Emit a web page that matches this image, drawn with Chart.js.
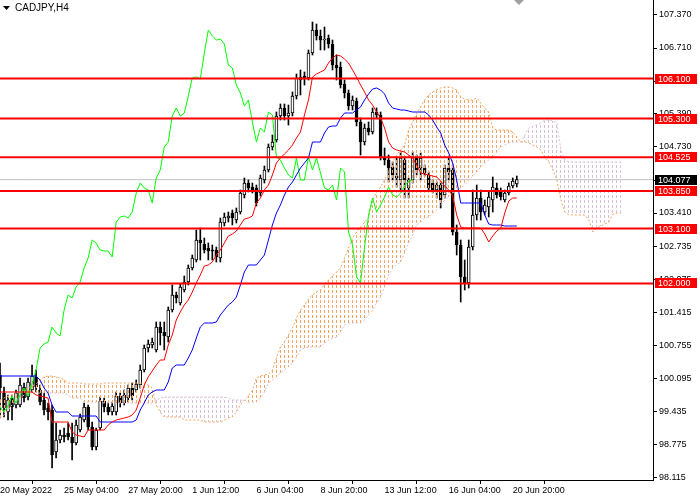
<!DOCTYPE html>
<html>
<head>
<meta charset="utf-8">
<script src="https://cdn.jsdelivr.net/npm/chart.js@4/dist/chart.umd.min.js"></script>
<style>
  html, body { margin: 0; padding: 0; background: #fff; }
  #wrap { width: 700px; height: 500px; }
</style>
</head>
<body>
<div id="wrap"><canvas id="chart" width="700" height="500"></canvas></div>
<script>
// CADJPY H4 candles, oldest first
var opens = [
  100.17, 99.81, 99.43, 99.71, 99.57, 99.57, 99.93, 99.73, 99.87, 100.13,
  99.87, 99.67, 99.51, 99.47, 98.63, 98.87, 98.97, 99.01, 98.93, 98.81,
  99.07, 99.27, 99.53, 99.13, 98.73, 99.11, 99.65, 99.53, 99.43, 99.43,
  99.75, 99.61, 99.71, 99.91, 99.87, 99.97, 100.27, 100.71, 100.77, 100.67,
  101.13, 101.03, 100.93, 101.47, 101.77, 101.61, 101.87, 102.03, 102.31, 102.47,
  102.87, 102.79, 102.71, 102.67, 102.67, 102.51, 103.21, 103.31, 103.41, 103.27,
  103.43, 103.77, 104.01, 103.93, 103.91, 103.81, 104.07, 104.27, 104.73, 104.87,
  105.35, 105.51, 105.35, 105.41, 105.75, 106.07, 106.15, 106.11, 106.61, 107.07,
  106.95, 106.87, 106.91, 106.79, 106.37, 106.33, 105.99, 105.81, 105.55, 105.65,
  105.23, 104.83, 105.11, 105.03, 105.43, 105.37, 104.53, 104.47, 104.33, 104.15,
  104.07, 104.47, 103.91, 104.07, 104.53, 104.31, 104.31, 104.17, 104.01, 103.87,
  103.97, 103.77, 104.31, 104.27, 103.03, 102.77, 102.13, 102.01, 102.73, 103.37,
  103.71, 103.43, 103.53, 103.67, 103.91, 103.83, 103.67, 103.81, 103.95, 103.99
];
var highs = [
  100.41, 99.93, 99.77, 99.77, 99.87, 100.11, 100.01, 100.11, 100.37, 100.27,
  99.97, 99.81, 99.61, 99.57, 99.21, 99.07, 99.11, 99.21, 99.21, 99.27,
  99.39, 99.61, 99.57, 99.23, 99.11, 99.73, 99.71, 99.61, 99.63, 99.83,
  99.81, 99.87, 99.97, 100.01, 100.07, 100.37, 100.77, 100.87, 100.91, 101.23,
  101.23, 101.23, 101.53, 101.97, 101.83, 101.99, 102.15, 102.37, 102.57, 103.07,
  103.11, 102.91, 102.81, 102.77, 102.73, 103.31, 103.41, 103.43, 103.47, 103.51,
  103.87, 104.11, 104.07, 104.01, 103.97, 104.17, 104.35, 104.79, 104.97, 105.43,
  105.59, 105.59, 105.57, 105.83, 106.19, 106.27, 106.23, 106.67, 107.23, 107.19,
  107.07, 107.13, 106.97, 106.87, 106.57, 106.43, 106.07, 105.87, 105.75, 105.71,
  105.31, 105.19, 105.23, 105.51, 105.51, 105.43, 104.71, 104.57, 104.43, 104.53,
  104.63, 104.53, 104.11, 104.63, 104.57, 104.61, 104.37, 104.23, 104.07, 104.03,
  104.03, 104.37, 104.53, 104.37, 103.17, 102.87, 102.47, 102.87, 103.87, 103.97,
  103.87, 103.67, 103.83, 104.13, 104.01, 103.91, 103.87, 104.01, 104.11, 104.15
];
var lows = [
  99.31, 99.33, 99.27, 99.27, 99.51, 99.53, 99.63, 99.67, 99.83, 99.83,
  99.57, 99.37, 99.27, 98.31, 98.51, 98.81, 98.83, 98.87, 98.47, 98.77,
  99.03, 99.23, 99.07, 98.67, 98.67, 99.07, 99.43, 99.37, 99.37, 99.37,
  99.53, 99.57, 99.63, 99.67, 99.83, 99.91, 100.23, 100.63, 100.71, 100.63,
  100.77, 100.67, 100.83, 101.43, 101.61, 101.57, 101.83, 101.97, 102.27, 102.43,
  102.47, 102.61, 102.47, 102.47, 102.43, 102.43, 103.15, 103.23, 103.17, 103.21,
  103.39, 103.71, 103.83, 103.81, 103.55, 103.75, 104.01, 104.23, 104.67, 104.83,
  105.27, 105.27, 105.17, 105.35, 105.69, 105.77, 105.97, 106.07, 106.57, 106.87,
  106.67, 106.67, 106.71, 106.27, 106.07, 105.91, 105.71, 105.47, 105.47, 105.15,
  104.57, 104.77, 104.97, 104.99, 105.31, 104.47, 104.37, 104.03, 104.07, 103.93,
  103.83, 103.71, 103.71, 104.01, 104.17, 104.07, 104.15, 103.87, 103.81, 103.71,
  103.51, 103.71, 104.07, 102.97, 102.57, 101.63, 101.87, 101.91, 102.67, 103.27,
  103.27, 103.37, 103.33, 103.43, 103.71, 103.67, 103.63, 103.77, 103.91, 103.93
];
var closes = [
  99.91, 99.51, 99.67, 99.53, 99.81, 99.97, 99.71, 100.03, 100.15, 99.93,
  99.63, 99.47, 99.43, 98.57, 98.87, 98.97, 98.93, 98.93, 98.81, 99.17,
  99.33, 99.53, 99.13, 98.73, 99.07, 99.65, 99.53, 99.43, 99.55, 99.75,
  99.61, 99.77, 99.91, 99.75, 99.99, 100.27, 100.71, 100.79, 100.83, 101.13,
  101.01, 100.95, 101.47, 101.77, 101.71, 101.93, 102.03, 102.31, 102.51, 102.87,
  102.81, 102.67, 102.65, 102.65, 102.53, 103.23, 103.33, 103.35, 103.31, 103.43,
  103.81, 104.01, 103.91, 103.87, 103.61, 104.11, 104.27, 104.73, 104.83, 105.35,
  105.51, 105.35, 105.41, 105.75, 106.11, 106.13, 106.09, 106.61, 107.07, 106.95,
  106.87, 106.89, 106.79, 106.37, 106.31, 105.97, 105.81, 105.55, 105.67, 105.23,
  104.83, 105.11, 105.03, 105.43, 105.37, 104.53, 104.47, 104.31, 104.17, 104.11,
  104.51, 104.07, 104.07, 104.53, 104.27, 104.51, 104.21, 103.91, 103.87, 103.97,
  103.67, 104.31, 104.23, 103.03, 102.77, 102.13, 102.01, 102.73, 103.37, 103.71,
  103.43, 103.57, 103.73, 103.93, 103.77, 103.73, 103.81, 103.95, 104.05, 104.077
];

// Ichimoku lines
var tenkan = [
  99.83, 99.83, 99.83, 99.83, 99.83, 99.83, 99.83, 99.83, 99.83, 99.77,
  99.75, 99.73, 99.71, 99.23, 99.23, 99.23, 99.23, 99.23, 99.03, 98.97,
  98.95, 98.93, 99.07, 99.07, 99.07, 99.07, 99.07, 99.17, 99.23, 99.27,
  99.29, 99.31, 99.33, 99.37, 99.47, 99.71, 99.97, 100.13, 100.25, 100.37,
  100.47, 100.47, 100.77, 100.97, 101.27, 101.43, 101.57, 101.67, 101.83, 102.01,
  102.17, 102.35, 102.37, 102.43, 102.57, 102.67, 102.81, 102.95, 102.99, 103.05,
  103.17, 103.29, 103.31, 103.35, 103.61, 103.71, 103.87, 103.97, 104.17, 104.41,
  104.51, 104.59, 104.67, 104.77, 104.91, 105.03, 105.37, 105.67, 106.13, 106.19,
  106.23, 106.27, 106.41, 106.51, 106.57, 106.55, 106.49, 106.41, 106.27, 106.13,
  105.97, 105.83, 105.67, 105.57, 105.43, 105.31, 105.11, 104.83, 104.71, 104.67,
  104.65, 104.63, 104.57, 104.51, 104.37, 104.21, 104.19, 104.17, 104.15, 104.13,
  104.05, 103.95, 103.87, 103.75, 103.37, 103.13, 103.11, 103.11, 103.11, 103.11,
  103.11, 102.99, 102.83, 102.95, 103.05, 103.11, 103.41, 103.65, 103.71, 103.71
];
var kijun = [
  100.15, 100.15, 100.15, 100.15, 100.15, 100.15, 100.15, 100.15, 100.15, 100.15,
  100.07, 99.91, 99.81, 99.57, 99.43, 99.43, 99.43, 99.43, 99.35, 99.35,
  99.35, 99.35, 99.35, 99.35, 99.35, 99.23, 99.23, 99.23, 99.23, 99.23,
  99.23, 99.23, 99.23, 99.23, 99.27, 99.47, 99.61, 99.77, 99.83, 99.87,
  99.87, 99.87, 100.03, 100.31, 100.37, 100.37, 100.37, 100.51, 100.67, 100.91,
  101.13, 101.21, 101.21, 101.21, 101.23, 101.37, 101.47, 101.57, 101.63, 101.73,
  101.97, 102.23, 102.37, 102.37, 102.37, 102.47, 102.57, 102.87, 103.17, 103.41,
  103.57, 103.77, 103.93, 104.03, 104.17, 104.31, 104.41, 104.51, 104.83, 104.83,
  104.83, 105.01, 105.13, 105.15, 105.15, 105.31, 105.41, 105.41, 105.41, 105.47,
  105.53, 105.67, 105.79, 105.89, 105.91, 105.87, 105.79, 105.61, 105.51, 105.49,
  105.47, 105.47, 105.45, 105.43, 105.43, 105.43, 105.43, 105.37, 105.27, 105.13,
  105.01, 104.77, 104.61, 104.41, 104.07, 103.61, 103.61, 103.61, 103.61, 103.61,
  103.61, 103.37, 103.19, 103.17, 103.17, 103.17, 103.15, 103.15, 103.15, 103.15
];
// cloud edges, already shifted 26 bars forward
var spanA = [
  99.67, 99.71, 99.75, 99.77, 99.81, 99.83, 99.87, 99.91, 99.95, 99.99,
  100.07, 100.13, 100.15, 100.15, 100.13, 100.11, 100.07, 100.01, 100.01, 100.01,
  100.01, 99.99, 99.99, 99.99, 99.99, 99.99, 100.01, 100.01, 100.01, 100.01,
  100.01, 100.01, 100.01, 100.01, 100.01, 100.01, 100.01, 99.97, 99.91, 99.57,
  99.43, 99.33, 99.33, 99.33, 99.33, 99.33, 99.27, 99.27, 99.27, 99.27,
  99.27, 99.23, 99.23, 99.23, 99.23, 99.23, 99.27, 99.31, 99.33, 99.43,
  99.57, 99.67, 99.75, 99.87, 100.11, 100.15, 100.17, 100.19, 100.27, 100.51,
  100.73, 100.83, 100.97, 101.11, 101.31, 101.47, 101.57, 101.69, 101.77, 101.83,
  101.87, 101.99, 102.07, 102.15, 102.23, 102.31, 102.51, 102.71, 102.91, 103.03,
  103.13, 103.23, 103.31, 103.67, 103.83, 103.93, 104.07, 104.23, 104.43, 104.57,
  104.67, 104.77, 105.07, 105.23, 105.41, 105.53, 105.67, 105.77, 105.83, 105.87,
  105.91, 105.93, 105.93, 105.91, 105.87, 105.73, 105.69, 105.67, 105.67, 105.71,
  105.61, 105.51, 105.43, 105.11, 105.07, 105.07, 105.07, 105.07, 105.03, 104.93,
  104.83, 104.83, 104.81, 104.77, 104.73, 104.67, 104.53, 104.43, 104.27, 104.07,
  103.67, 103.43, 103.37, 103.37, 103.37, 103.37, 103.37, 103.27, 103.03, 103.11,
  103.15, 103.19, 103.23, 103.39, 103.41, 103.41
];
var spanB = [
  99.31, 99.37, 99.47, 99.57, 99.67, 99.71, 99.77, 99.81, 99.81, 99.81,
  99.81, 99.81, 99.81, 99.81, 99.81, 99.81, 99.81, 99.77, 99.71, 99.71,
  99.71, 99.63, 99.63, 99.63, 99.63, 99.63, 99.61, 99.61, 99.61, 99.61,
  99.61, 99.61, 99.61, 99.61, 99.61, 99.61, 99.61, 99.61, 99.61, 99.67,
  99.71, 99.73, 99.73, 99.73, 99.73, 99.73, 99.73, 99.73, 99.73, 99.73,
  99.73, 99.73, 99.73, 99.73, 99.73, 99.73, 99.73, 99.71, 99.67, 99.67,
  99.67, 99.67, 99.63, 99.63, 99.63, 99.71, 99.83, 100.01, 100.07, 100.13,
  100.21, 100.27, 100.33, 100.41, 100.53, 100.67, 100.71, 100.73, 100.73, 100.73,
  100.73, 100.81, 100.87, 100.91, 100.93, 101.03, 101.17, 101.21, 101.21, 101.21,
  101.21, 101.27, 101.37, 101.47, 101.61, 101.73, 101.93, 102.17, 102.31, 102.37,
  102.43, 102.61, 102.81, 102.97, 103.17, 103.23, 103.31, 103.33, 103.41, 103.47,
  103.57, 103.67, 103.73, 103.81, 103.87, 103.91, 103.97, 104.07, 104.15, 104.23,
  104.33, 104.41, 104.47, 104.53, 104.63, 104.73, 104.77, 104.81, 104.83, 104.83,
  104.83, 104.97, 105.11, 105.15, 105.17, 105.21, 105.27, 105.27, 105.25, 105.21,
  104.67, 104.47, 104.43, 104.43, 104.43, 104.43, 104.43, 104.43, 104.43, 104.43,
  104.43, 104.43, 104.43, 104.43, 104.43, 104.43
];

var levels = [106.100, 105.300, 104.525, 103.850, 103.100, 102.000];
var lastPrice = 104.077;
var yTicks = [107.370, 106.710, 106.050, 105.390, 104.730, 104.070, 103.410, 102.735,
              102.075, 101.415, 100.755, 100.095, 99.435, 98.775, 98.115];
var timeLabels = ['20 May 2022', '25 May 04:00', '27 May 20:00', '1 Jun 12:00', '6 Jun 04:00',
                  '8 Jun 20:00', '13 Jun 12:00', '16 Jun 04:00', '20 Jun 20:00'];
var barCount = 164;   // bar slots visible across the window

var slots = [];
for (var i = 0; i < barCount; i++) slots.push(i);

function dotPattern(color) {
  var c = document.createElement('canvas');
  c.width = 4; c.height = 5;
  var g = c.getContext('2d');
  g.fillStyle = color;
  g.fillRect(0, 0, 1, 3);
  return g.createPattern(c, 'repeat');
}

var wicks = lows.map(function(l, i) { return [l, highs[i]]; });
var bodies = opens.map(function(o, i) { return [o, closes[i]]; });
var bodyColors = opens.map(function(o, i) { return closes[i] >= o ? '#ffffff' : '#000000'; });
var chikou = closes.slice(26);

Chart.defaults.font.family = '"Liberation Sans", Arial, sans-serif';
Chart.defaults.font.size = 9;
Chart.defaults.color = '#000';

var datasets = [];
levels.forEach(function(v) {
  datasets.push({ type: 'line', data: slots.map(function() { return v; }), borderColor: '#ff0000',
    borderWidth: 2, pointRadius: 0, order: 0 });
});
datasets.push({ type: 'line', data: slots.map(function() { return lastPrice; }), borderColor: '#c0c0c0',
  borderWidth: 1, pointRadius: 0, order: 9 });
datasets.push({ type: 'line', data: tenkan, borderColor: '#ff0000', borderWidth: 1, pointRadius: 0, order: 1 });
datasets.push({ type: 'line', data: kijun, borderColor: '#0000ff', borderWidth: 1, pointRadius: 0, order: 1 });
datasets.push({ type: 'line', data: chikou, borderColor: '#00ff00', borderWidth: 1, pointRadius: 0, order: 1 });
datasets.push({ type: 'line', data: spanA, borderColor: '#f4a460', borderWidth: 1, borderDash: [2, 2],
  pointRadius: 0, order: 2,
  fill: { target: '+1', above: dotPattern('#f4a460'), below: dotPattern('#d8bfd8') } });
datasets.push({ type: 'line', data: spanB, borderColor: '#d8bfd8', borderWidth: 1, borderDash: [2, 2],
  pointRadius: 0, order: 2 });
datasets.push({ type: 'bar', data: bodies, backgroundColor: bodyColors, borderColor: '#000',
  borderWidth: 1, borderSkipped: false, barThickness: 3, grouped: false, order: 3 });
datasets.push({ type: 'bar', data: wicks, backgroundColor: '#000', barThickness: 1, grouped: false, order: 4 });

var overlay = {
  id: 'overlay',
  afterDraw: function(chart) {
    var ctx = chart.ctx, ys = chart.scales.y, area = chart.chartArea;
    ctx.save();
    ctx.font = '9px "Liberation Sans", Arial, sans-serif';
    ctx.textBaseline = 'middle';
    function tag(v, bg) {
      var py = Math.round(ys.getPixelForValue(v));
      ctx.fillStyle = bg;
      ctx.fillRect(area.right + 2, py - 5, 42, 10);
      ctx.fillStyle = '#fff';
      ctx.fillText(v.toFixed(3), area.right + 5, py + 0.5);
    }
    levels.forEach(function(v) { tag(v, '#ff0000'); });
    tag(lastPrice, '#000000');
    // symbol caption
    ctx.fillStyle = '#000';
    ctx.beginPath();
    ctx.moveTo(3, 6); ctx.lineTo(10, 6); ctx.lineTo(6.5, 10); ctx.closePath(); ctx.fill();
    ctx.font = '10px "Liberation Sans", Arial, sans-serif';
    ctx.fillText('CADJPY,H4', 15, 8);
    // chart shift marker
    ctx.fillStyle = '#a0a0a0';
    ctx.beginPath();
    ctx.moveTo(514, 0); ctx.lineTo(524, 0); ctx.lineTo(519, 5); ctx.closePath(); ctx.fill();
    ctx.restore();
  }
};

new Chart(document.getElementById('chart'), {
  type: 'bar',
  data: { labels: slots, datasets: datasets },
  options: {
    responsive: false,
    animation: false,
    devicePixelRatio: 1,
    layout: { padding: 0 },
    plugins: { legend: { display: false }, tooltip: { enabled: false } },
    scales: {
      x: {
        type: 'category',
        offset: false,
        grid: { drawOnChartArea: false, drawTicks: true, tickLength: 4, color: '#000' },
        border: { display: true, color: '#000', width: 1 },
        ticks: {
          autoSkip: false, maxRotation: 0, minRotation: 0, align: 'start', padding: 1,
          callback: function(v) { return timeLabels[v / 16]; }
        },
        afterBuildTicks: function(s) { s.ticks = s.ticks.filter(function(t) { return t.value % 16 === 0; }); },
        afterFit: function(s) { s.height = 20; s.paddingLeft = 0; s.paddingRight = 0; }
      },
      y: {
        position: 'right',
        min: 98.07,
        max: 107.67,
        grid: { drawOnChartArea: false, drawTicks: true, tickLength: 4, color: '#000' },
        border: { display: true, color: '#000', width: 1 },
        ticks: { padding: 2, callback: function(v) { return v.toFixed(3); } },
        afterBuildTicks: function(s) { s.ticks = yTicks.map(function(v) { return { value: v }; }); },
        afterFit: function(s) { s.width = 47; s.paddingTop = 0; s.paddingBottom = 0; }
      }
    }
  },
  plugins: [overlay]
});
</script>
</body>
</html>
